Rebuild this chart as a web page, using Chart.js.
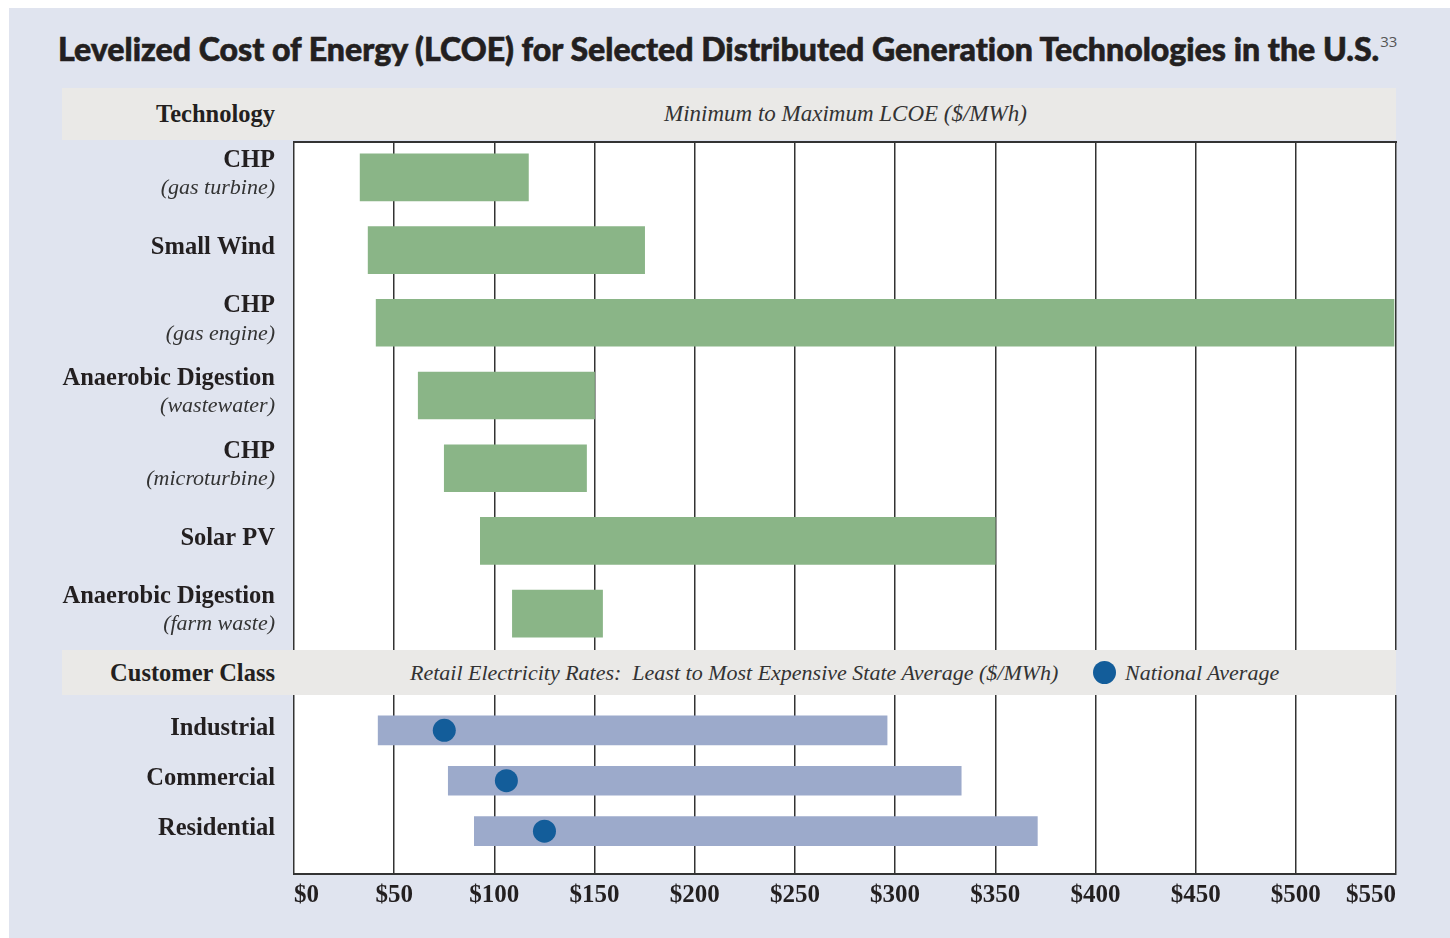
<!DOCTYPE html>
<html>
<head>
<meta charset="utf-8">
<script src="https://cdn.jsdelivr.net/npm/chart.js@4"></script>
<style>
  body { margin: 0; background: #fff; width: 1450px; height: 938px; position: relative; overflow: hidden; }
  #painel { position: absolute; left: 9px; top: 8px; width: 1441px; height: 930px; background: #e0e4ef; }
  #titulo { position: absolute; left: 58px; top: 29px; font: 900 32.1px Lato, sans-serif; color: #231f20; white-space: nowrap; font-variant-ligatures: none; -webkit-text-stroke: 0.6px #231f20; }
  #titulo sup { font: 400 15px "Open Sans", sans-serif; color: #555; vertical-align: 14px; margin-left: 1px; -webkit-text-stroke: 0; }
  .faixa { position: absolute; left: 62px; width: 1334px; background: #eae9e7; }
  .faixa span { position: absolute; top: 0; bottom: 0; display: flex; align-items: center; color: #231f20; white-space: pre; }
  .rotulo { right: 1121px; font: bold 24.5px "Liberation Serif", serif; }
  .nota { font: italic 22px "Liberation Serif", serif; color: #333 !important; }
  .ponto { width: 23px; height: 23px; border-radius: 50%; background: #135d9a; top: 11px !important; bottom: auto !important; }
  canvas { position: absolute; left: 0; }
</style>
</head>
<body>
<div id="painel"></div>
<div id="titulo">Levelized Cost of Energy (LCOE) for Selected Distributed Generation Technologies in the U.S.<sup>33</sup></div>

<div class="faixa" style="top:88px;height:52px">
  <span class="rotulo">Technology</span>
  <span class="nota" style="left:602px;font-size:23px">Minimum to Maximum LCOE ($/MWh)</span>
</div>
<div class="faixa" style="top:650px;height:45px">
  <span class="rotulo">Customer Class</span>
  <span class="nota" style="left:348px">Retail Electricity Rates:  Least to Most Expensive State Average ($/MWh)</span>
  <span class="ponto" style="left:1031px"></span>
  <span class="nota" style="left:1063px">National Average</span>
</div>

<canvas id="graficoTec" width="1450" height="509" style="top:141px"></canvas>
<canvas id="graficoClasse" width="1450" height="219" style="top:695px"></canvas>

<script>
  // Tecnologias (de cima para baixo)
  const tecNomes = ["CHP", "Small Wind", "CHP", "Anaerobic Digestion", "CHP", "Solar PV", "Anaerobic Digestion"];
  const tecNotas = ["(gas turbine)", "", "(gas engine)", "(wastewater)", "(microturbine)", "", "(farm waste)"];
  const tecMin = [33, 37, 41, 62, 75, 93, 109];
  const tecMax = [117, 175, 549, 150, 146, 350, 154];

  // Classes de consumidor
  const classeNomes = ["Industrial", "Commercial", "Residential"];
  const tarifaMin = [42, 77, 90];
  const tarifaMax = [296, 333, 371];
  const mediaNacional = [75, 106, 125];

  const ticksX = [0, 50, 100, 150, 200, 250, 300, 350, 400, 450, 500, 550];

  const corTexto = "#231f20";
  const corGrade = "#333333";
  const fonteSerif = "Liberation Serif";

  // Fundo branco da área do gráfico + moldura + rótulos do eixo Y
  function pluginRotulos(nomes, notas, comTopo) {
    return {
      id: "rotulos",
      beforeDraw(chart) {
        const a = chart.chartArea;
        const ctx = chart.ctx;
        ctx.save();
        ctx.fillStyle = "#fff";
        ctx.fillRect(a.left, a.top, a.right - a.left, a.bottom - a.top);
        ctx.restore();
      },
      afterDraw(chart) {
        const a = chart.chartArea;
        const ctx = chart.ctx;
        const escalaY = chart.scales.y;
        ctx.save();
        if (comTopo) {
          ctx.strokeStyle = corGrade;
          ctx.lineWidth = 2;
          ctx.beginPath();
          ctx.moveTo(a.left - 1, a.top + 1);
          ctx.lineTo(a.right + 1, a.top + 1);
          ctx.stroke();
        }
        ctx.fillStyle = corTexto;
        ctx.textAlign = "right";
        ctx.textBaseline = "middle";
        nomes.forEach(function(nome, i) {
          const y = escalaY.getPixelForValue(i);
          const nota = notas ? notas[i] : "";
          ctx.font = "bold 24.5px " + fonteSerif;
          if (nota) {
            ctx.fillText(nome, 275, y - 17);
            ctx.font = "italic 22px " + fonteSerif;
            ctx.fillStyle = "#333";
            ctx.fillText(nota, 275, y + 11);
            ctx.fillStyle = corTexto;
          } else {
            ctx.fillText(nome, 275, y - 2);
          }
        });
        ctx.restore();
      }
    };
  }

  function eixoX(comTicks) {
    return {
      type: "linear",
      min: 0,
      max: 550,
      afterBuildTicks: function(escala) {
        escala.ticks = ticksX.map(function(v) { return { value: v }; });
      },
      afterFit: function(escala) {
        escala.height = comTicks ? 40 : 0;
      },
      grid: { color: corGrade, lineWidth: 1.5, drawTicks: false },
      border: { display: comTicks, color: corGrade, width: 2 },
      ticks: {
        display: comTicks,
        align: "inner",
        padding: 7,
        color: corTexto,
        font: { family: fonteSerif, size: 25, weight: "bold" },
        callback: function(v) { return "$" + v; }
      }
    };
  }

  new Chart(document.getElementById("graficoTec").getContext("2d"), {
    type: "bar",
    data: {
      labels: tecNomes.map(function(n, i) { return n + " " + tecNotas[i]; }),
      datasets: [{
        data: tecMin.map(function(v, i) { return [v, tecMax[i]]; }),
        backgroundColor: "#8ab587",
        borderWidth: 0,
        barThickness: 47
      }]
    },
    options: {
      indexAxis: "y",
      responsive: false,
      animation: false,
      layout: { autoPadding: false, padding: { left: 294, right: 54, top: 0, bottom: 0 } },
      scales: {
        x: eixoX(false),
        y: { display: false }
      },
      plugins: { legend: { display: false }, tooltip: { enabled: false } }
    },
    plugins: [pluginRotulos(tecNomes, tecNotas, true)]
  });

  new Chart(document.getElementById("graficoClasse").getContext("2d"), {
    data: {
      datasets: [{
        type: "scatter",
        order: 0,
        data: mediaNacional.map(function(v, i) { return { x: v, y: i }; }),
        backgroundColor: "#135d9a",
        borderWidth: 0,
        pointRadius: 11.5
      }, {
        type: "bar",
        order: 1,
        indexAxis: "y",
        data: tarifaMin.map(function(v, i) { return { x: [v, tarifaMax[i]], y: i }; }),
        backgroundColor: "#9caacb",
        borderWidth: 0,
        barThickness: 29
      }]
    },
    options: {
      responsive: false,
      animation: false,
      layout: { autoPadding: false, padding: { left: 294, right: 54, top: 0, bottom: 0 } },
      scales: {
        x: eixoX(true),
        y: { type: "linear", reverse: true, offset: false, min: -0.7, max: 2.85, display: false }
      },
      plugins: { legend: { display: false }, tooltip: { enabled: false } }
    },
    plugins: [pluginRotulos(classeNomes, null, false)]
  });
</script>
</body>
</html>
